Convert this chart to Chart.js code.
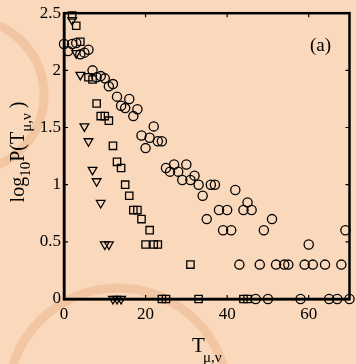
<!DOCTYPE html>
<html><head><meta charset="utf-8">
<script src="https://cdn.jsdelivr.net/npm/chart.js@4.4.0/dist/chart.umd.min.js"></script>
<style>html,body{margin:0;padding:0;background:#fad8bc;}#wrap{width:356px;height:364px;position:relative}</style>
</head><body><div id="wrap"><canvas id="c" width="356" height="364"></canvas></div>
<script>
// Tick labels
const xTicks = [0, 20, 40, 60];
const yTicks = [0, 0.5, 1, 1.5, 2, 2.5];
const yTickLabels = ['0', '0.5', '1', '1.5', '2', '2.5'];

// Series: circles
const circleT = [0,1,2,3,4,5,6,7,8,9,10,11,12,13,14,15,16,17,18,19,20,21,22,23,24,25,26,27,28,29,30,31,32,33,34,35,36,37,38,39,40,41,42,43,44,45,46,47,48,49,50,51,52,54,55,58,59,60,61,64,65,67,68,69,70];
const circleV = [2.23,2.17,2.23,2.24,2.14,2.155,2.18,
  2.0,1.94,1.95,1.93,1.86,1.88,1.77,1.69,1.67,1.75,
  1.60,1.66,1.43,1.32,1.41,1.51,1.38,1.38,
  1.146,1.114,1.176,1.114,1.041,1.176,1.041,1.079,1.0,0.903,
  0.699,1.0,1.0,0.778,0.602,0.778,0.602,0.954,0.301,0.778,
  0.845,0.778,0,0.301,0.602,0,0.699,0.301,
  0.301,0.301,0,0.301,0.477,0.301,0.301,0,0,0.301,0.602,0];

// Series: squares
const squareT = [2,3,4,6,7,8,9,10,11,12,13,14,15,16,17,18,19,20,21,22,23,24,25,31,33,44,45];
const squareV = [2.48,2.39,2.25,1.94,1.92,1.71,1.60,1.60,1.56,1.34,1.20,1.146,1.0,0.903,0.778,0.778,0.699,0.477,0.602,0.477,0.477,0,0,0.301,0,0,0];

// Series: down triangles
const triT = [2,3,4,5,6,7,8,9,10,11,12,13,14];
const triV = [2.44,2.15,1.96,1.51,1.38,1.13,1.03,0.84,0.477,0.477,0,0,0];

const toPts = (xs, ys) => xs.map((x, i) => ({x: x, y: ys[i]}));
const FONT = '"Liberation Serif", "Times New Roman", serif';

const decor = {
  id: 'decor',
  beforeDraw(chart) {
    const ctx = chart.ctx;
    ctx.save();
    ctx.fillStyle = '#fad8bc';
    ctx.fillRect(0, 0, chart.width, chart.height);
    ctx.strokeStyle = 'rgba(225,165,115,0.35)';
    ctx.lineWidth = 9;
    ctx.beginPath(); ctx.arc(-32, 95, 76, -Math.PI/2, Math.PI/2); ctx.stroke();
    ctx.beginPath(); ctx.arc(118, 398, 110, Math.PI, 2*Math.PI); ctx.stroke();
    ctx.restore();
  },
  afterDraw(chart) {
    const ctx = chart.ctx;
    const a = chart.chartArea;
    const xs = chart.scales.x, ys = chart.scales.y;
    ctx.save();
    ctx.strokeStyle = '#000';
    ctx.lineWidth = 2.5;
    ctx.strokeRect(a.left, a.top, a.right - a.left, a.bottom - a.top);
    ctx.lineWidth = 1.2;
    ctx.beginPath();
    xTicks.forEach(v => {
      const p = xs.getPixelForValue(v);
      ctx.moveTo(p, a.bottom); ctx.lineTo(p, a.bottom - 4);
      ctx.moveTo(p, a.top); ctx.lineTo(p, a.top + 4);
    });
    yTicks.forEach(v => {
      const p = ys.getPixelForValue(v);
      ctx.moveTo(a.left, p); ctx.lineTo(a.left + 4, p);
      ctx.moveTo(a.right, p); ctx.lineTo(a.right - 4, p);
    });
    ctx.stroke();

    ctx.fillStyle = '#000';
    ctx.textBaseline = 'alphabetic';
    ctx.textAlign = 'left';
    // (a)
    ctx.font = '19px ' + FONT;
    ctx.fillText('(a)', 310, 51);
    // x title
    ctx.font = '21px ' + FONT;
    ctx.fillText('T', 192, 352);
    ctx.font = '15px ' + FONT;
    ctx.fillText('\u03bc,\u03bd', 203, 362);
    // y title rotated
    ctx.translate(24, 152);
    ctx.rotate(-Math.PI/2);
    const parts = [['log', 20, 0], ['10', 15, 6], ['P(T', 20, 0], ['\u03bc,\u03bd', 15, 7], [' )', 20, 0]];
    let total = 0;
    parts.forEach(p => { ctx.font = p[1] + 'px ' + FONT; total += ctx.measureText(p[0]).width; });
    let cx = -total / 2;
    parts.forEach(p => {
      ctx.font = p[1] + 'px ' + FONT;
      ctx.fillText(p[0], cx, p[2]);
      cx += ctx.measureText(p[0]).width;
    });
    ctx.restore();
  }
};

const common = {
  showLine: false, clip: false,
  borderColor: '#000', backgroundColor: 'rgba(0,0,0,0)',
  borderWidth: 1.3, pointBorderWidth: 1.3,
  pointBackgroundColor: 'rgba(0,0,0,0)', pointBorderColor: '#000'
};

new Chart(document.getElementById('c'), {
  type: 'scatter',
  data: {
    datasets: [
      Object.assign({label: 'circles', data: toPts(circleT, circleV), pointStyle: 'circle', pointRadius: 4.6}, common),
      Object.assign({label: 'squares', data: toPts(squareT, squareV), pointStyle: 'rect', pointRadius: 5.2}, common),
      Object.assign({label: 'triangles', data: toPts(triT, triV), pointStyle: 'triangle', pointRadius: 5, pointRotation: 180, rotation: 180}, common)
    ]
  },
  options: {
    responsive: false, animation: false, devicePixelRatio: 1,
    layout: {padding: {top: 13, right: 3, left: 0, bottom: 0}},
    plugins: {legend: {display: false}, tooltip: {enabled: false}},
    scales: {
      x: {
        type: 'linear', min: 0, max: 70,
        afterBuildTicks: s => { s.ticks = xTicks.map(v => ({value: v})); },
        afterFit: s => { s.height = 65; },
        grid: {display: false, drawTicks: false},
        border: {display: true, color: '#000', width: 2.5},
        ticks: {color: '#000', font: {family: FONT, size: 17}, padding: 5, maxRotation: 0, autoSkip: false,
          callback: v => String(v)}
      },
      y: {
        min: 0, max: 2.5,
        afterBuildTicks: s => { s.ticks = yTicks.map(v => ({value: v})); },
        afterFit: s => { s.width = 64; },
        grid: {display: false, drawTicks: false},
        border: {display: true, color: '#000', width: 2.5},
        ticks: {color: '#000', font: {family: FONT, size: 17}, padding: 3, autoSkip: false,
          callback: (v, i) => yTickLabels[yTicks.indexOf(v)] ?? String(v)}
      }
    }
  },
  plugins: [decor]
});
</script></body></html>
